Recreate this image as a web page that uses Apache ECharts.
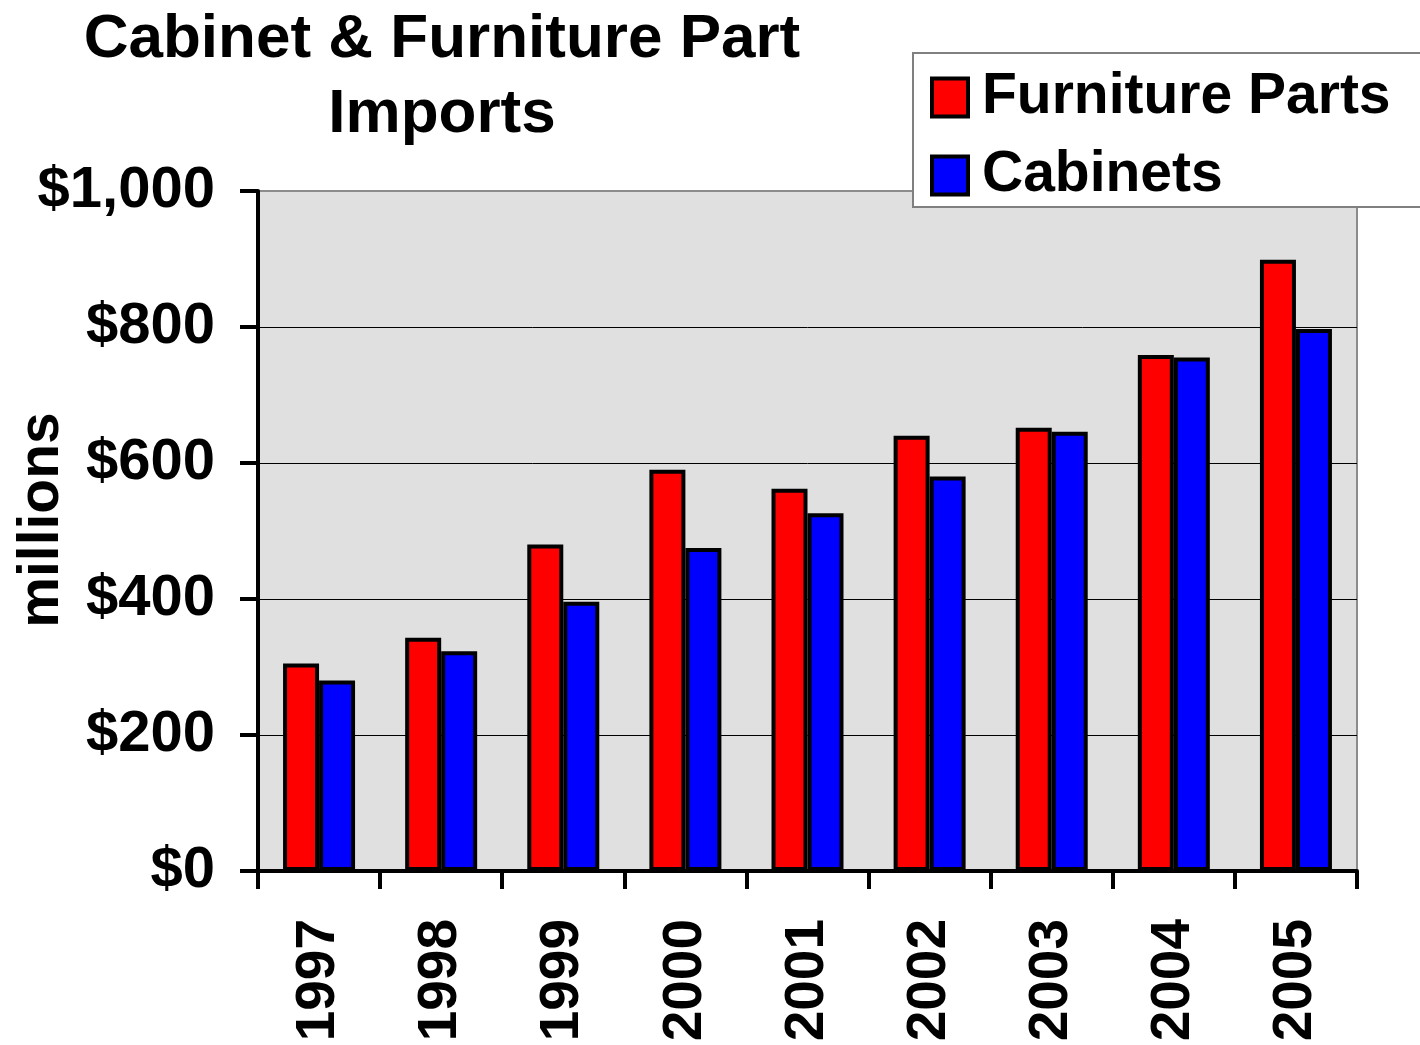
<!DOCTYPE html>
<html>
<head>
<meta charset="utf-8">
<script src="https://cdn.jsdelivr.net/npm/echarts@6/dist/echarts.min.js"></script>
<style>
  html, body { margin: 0; padding: 0; background: #fff; }
  #chart { width: 1420px; height: 1045px; }
</style>
</head>
<body>
<div id="chart"></div>
<script>
const years = ["1997", "1998", "1999", "2000", "2001", "2002", "2003", "2004", "2005"];
const furnitureParts = [305, 343, 480, 590, 562, 640, 652, 759, 899];
const cabinets = [280, 323, 396, 475, 526, 580, 646, 755, 797];

const font = "'Liberation Sans', Arial, sans-serif";

var myChart = echarts.init(document.getElementById("chart"));
myChart.setOption({
  animation: false,
  textStyle: { fontFamily: font },
  title: {
    text: "Cabinet & Furniture Part\nImports",
    left: 437,
    top: -3,
    textAlign: "center",
    textStyle: { fontFamily: font, fontSize: 62, fontWeight: "bold", color: "#000", lineHeight: 75 },
  },
  legend: {
    orient: "vertical",
    left: 913,
    top: 53,
    padding: [16, 40, 3, 17],
    backgroundColor: "#fff",
    borderColor: "#808080",
    borderWidth: 2,
    itemWidth: 36,
    itemHeight: 38,
    itemGap: 21,
    itemTextGap: 16,
    icon: "rect",
    itemStyle: { borderColor: "#000", borderWidth: 4 },
    textStyle: {
      fontFamily: font, fontSize: 57, fontWeight: "bold", color: "#000",
      lineHeight: 56, padding: [0, 0, 0, 9],
    },
    data: ["Furniture Parts", "Cabinets"],
  },
  grid: {
    left: 258,
    top: 191,
    right: 63,
    bottom: 174,
    show: true,
    backgroundColor: "#e0e0e0",
    borderColor: "#8c8c8c",
    borderWidth: 2,
  },
  xAxis: {
    type: "category",
    data: years,
    axisLine: { lineStyle: { color: "#000", width: 4 } },
    axisTick: { show: true, length: 18, lineStyle: { color: "#000", width: 4 } },
    axisLabel: {
      rotate: 90,
      margin: 48,
      fontFamily: font,
      fontSize: 55,
      fontWeight: "bold",
      color: "#000",
    },
  },
  yAxis: {
    type: "value",
    min: 0,
    max: 1000,
    interval: 200,
    axisLine: { show: true, lineStyle: { color: "#000", width: 4 } },
    axisTick: { show: true, length: 18, lineStyle: { color: "#000", width: 4 } },
    splitLine: { show: true, showMaxLine: false, lineStyle: { color: "#000", width: 1 } },
    axisLabel: {
      margin: 43,
      fontFamily: font,
      fontSize: 58,
      fontWeight: "bold",
      color: "#000",
      formatter(val) {
        return "$" + val.toLocaleString("en-US");
      },
    },
  },
  graphic: [
    {
      type: "text",
      x: 42,
      y: 520,
      rotation: Math.PI / 2,
      style: {
        text: "millions",
        fontFamily: font,
        fontSize: 57,
        fontWeight: "bold",
        fill: "#000",
        align: "center",
        verticalAlign: "middle",
      },
    },
  ],
  series: [
    {
      name: "Furniture Parts",
      type: "bar",
      data: furnitureParts,
      barWidth: 36,
      barGap: "0%",
      itemStyle: { color: "#ff0000", borderColor: "#000", borderWidth: 4 },
    },
    {
      name: "Cabinets",
      type: "bar",
      data: cabinets,
      barWidth: 36,
      barGap: "0%",
      itemStyle: { color: "#0000ff", borderColor: "#000", borderWidth: 4 },
    },
  ],
});
</script>
</body>
</html>
